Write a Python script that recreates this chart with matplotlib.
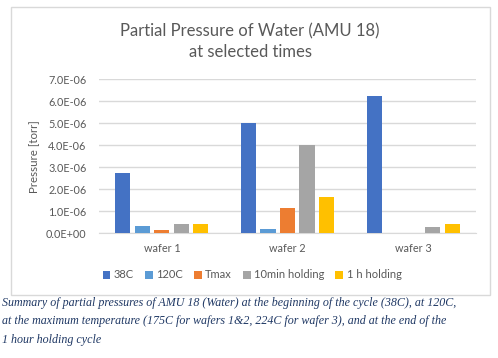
import matplotlib

matplotlib.use("Agg")
import matplotlib.pyplot as plt
from matplotlib.patches import Rectangle
from matplotlib.ticker import FuncFormatter
import numpy as np

categories = ["wafer 1", "wafer 2", "wafer 3"]
series_names = ["38C", "120C", "Tmax", "10min holding", "1 h holding"]
p_38c = [2.73e-6, 5.0e-6, 6.21e-6]
p_120c = [0.34e-6, 0.21e-6, 0.0]
p_tmax = [0.16e-6, 1.15e-6, 0.0]
p_10min = [0.42e-6, 3.99e-6, 0.28e-6]
p_1h = [0.43e-6, 1.65e-6, 0.42e-6]
series_values = [p_38c, p_120c, p_tmax, p_10min, p_1h]
colors = ["#4472C4", "#5B9BD5", "#ED7D31", "#A5A5A5", "#FFC000"]
yticks = np.arange(0, 7.01e-6, 1e-6)

caption = ("Summary of partial pressures of AMU 18 (Water) at the beginning of the cycle (38C), at 120C,\n"
           "at the maximum temperature (175C for wafers 1&2, 224C for wafer 3), and at the end of the\n"
           "1 hour holding cycle")

W, H = 498, 358
plt.rcParams["font.family"] = ["Lato", "DejaVu Sans"]
fig = plt.figure(figsize=(W / 100, H / 100), dpi=100)

# chart frame, kept behind the axes
fig.patches.append(Rectangle((11 / W, 1 - 295 / H), 479 / W, 288 / H, transform=fig.transFigure,
                             facecolor="white", edgecolor="#D9D9D9", linewidth=1.0, zorder=-10))

ax = fig.add_axes([99 / W, 1 - 233.3 / H, 377 / W, (233.3 - 79) / H])
ax.patch.set_alpha(0)
x = np.arange(len(categories))
step, width = 0.155, 0.12
for i, (name, vals) in enumerate(zip(series_names, series_values)):
    ax.bar(x + (i - 2) * step, vals, width, color=colors[i], label=name, zorder=3)

ax.set_xlim(-0.5, 2.5)
ax.set_ylim(0, 7e-6)
ax.set_yticks(yticks)
ax.yaxis.set_major_formatter(FuncFormatter(lambda v, _: f"{v:.1E}"))
ax.set_xticks(x)
ax.set_xticklabels(categories)
ax.grid(axis="y", color="#D9D9D9", linewidth=1.0, zorder=0)
for s in ["top", "right", "left"]:
    ax.spines[s].set_visible(False)
ax.spines["bottom"].set_color("#D9D9D9")
ax.tick_params(axis="both", length=0, labelsize=7.8, colors="#595959")
ax.tick_params(axis="x", pad=7)
ax.tick_params(axis="y", pad=9)
ax.set_ylabel("Pressure [torr]", fontsize=8.3, color="#595959", labelpad=4)

fig.text(250 / W, 1 - 31 / H, "Partial Pressure of Water (AMU 18)", ha="center", va="center",
         fontsize=12, color="#595959")
fig.text(250 / W, 1 - 52 / H, "at selected times", ha="center", va="center",
         fontsize=12, color="#595959")

fig.legend(loc="center", bbox_to_anchor=(252 / W, 1 - 275 / H), ncol=5, frameon=False,
           fontsize=8, handlelength=0.7, handleheight=0.7, handletextpad=0.3,
           columnspacing=1.0, labelcolor="#595959")

fig.text(2 / W, 1 - 297 / H, caption, ha="left", va="top", fontsize=8.65, color="#1F3864",
         family="Liberation Serif", style="italic", linespacing=1.7)

fig.savefig("out.png", dpi=100)
